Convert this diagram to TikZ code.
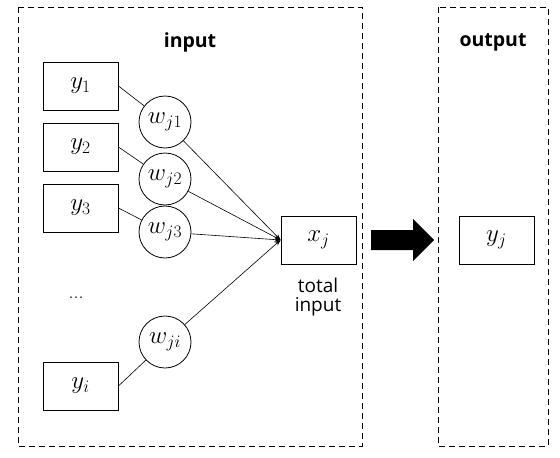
\documentclass[tikz,border=0pt]{standalone}
\usepackage{fix-cm}
\usepackage{fontspec}
\setsansfont{Open Sans}
\usetikzlibrary{arrows.meta}
\newcommand{\bigtext}{\fontsize{25}{29}\selectfont}
\begin{document}
\begin{tikzpicture}[x=1pt,y=-1pt,
  frame/.style={draw,dashed,dash pattern=on 6pt off 4pt,line width=0.8pt},
  vbox/.style={draw,line width=0.9pt,minimum width=75pt,minimum height=48pt,inner sep=0pt,font=\bigtext},
  wcirc/.style={draw,circle,line width=0.8pt,minimum size=52pt,inner sep=0pt,font=\bigtext},
  conn/.style={line width=0.6pt},
  tip/.style={line width=0.6pt,-{Stealth[length=6pt,width=4.5pt]}},
  plain/.style={font=\fontsize{20}{24}\selectfont},
  lbl/.style={font=\sffamily\fontsize{19}{22}\selectfont},
  blbl/.style={font=\sffamily\bfseries\fontsize{19.5}{22}\selectfont}]
\useasboundingbox (0,0) rectangle (560,458);
\draw[frame] (18,7) rectangle (362,446);
\draw[frame] (438,7) rectangle (548,446);
\node[blbl] (tin) at (190,42) {input};
\node[blbl] (tout) at (493,42) {output};
\node[vbox] (y1) at (80.5,86) {$y_1$};
\node[vbox] (y2) at (80.5,147) {$y_2$};
\node[vbox] (y3) at (80.5,208) {$y_3$};
\node[vbox] (yi) at (80.5,386) {$y_i$};
\node[plain] (dots) at (76,298) {...};
\node[wcirc] (w1) at (165,122) {$w_{j1}$};
\node[wcirc] (w2) at (165,179) {$w_{j2}$};
\node[wcirc] (w3) at (165,232) {$w_{j3}$};
\node[wcirc] (wi) at (165,342) {$w_{ji}$};
\node[vbox] (xj) at (318.5,240) {$x_j$};
\node[lbl,align=center] (tot) at (318,297) {total\\[-3pt]input};
\node[vbox] (yj) at (496.5,240) {$y_j$};
\draw[conn] (y1.east) -- (w1);
\draw[conn] (y2.east) -- (w2);
\draw[conn] (y3.east) -- (w3);
\draw[conn] (yi.east) -- (wi);
\draw[tip] (w1) -- (xj.west);
\draw[tip] (w2) -- (xj.west);
\draw[tip] (w3) -- (xj.west);
\draw[tip] (wi) -- (xj.west);
\fill (371,230) -- (413,230) -- (413,219) -- (434,240) -- (413,261) -- (413,250) -- (371,250) -- cycle;
\end{tikzpicture}
\end{document}
